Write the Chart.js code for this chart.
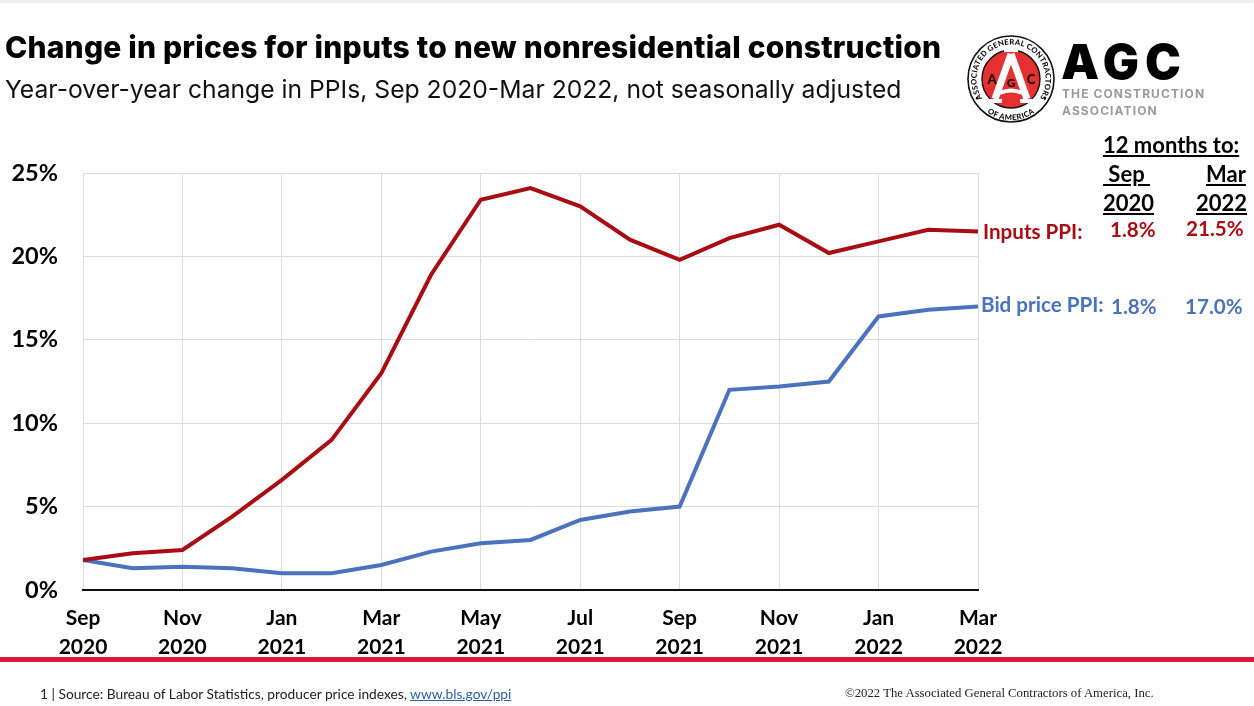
<!DOCTYPE html>
<html>
<head>
<meta charset="utf-8">
<title>Change in prices for inputs to new nonresidential construction</title>
<script src="https://cdn.jsdelivr.net/npm/chart.js@4"></script>
<style>
html, body { margin: 0; padding: 0; background: #fff; }
#page { position: relative; width: 1254px; height: 706px; overflow: hidden; }
#chart { position: absolute; left: 0; top: 0; }
.t { position: absolute; white-space: nowrap; line-height: 1; font-family: Lato, sans-serif; }
.h { font-weight: 700; font-size: 22px; color: #000; text-decoration: underline; }
.r { font-weight: 700; font-size: 20.6px; color: #a80d14; }
.b { font-weight: 700; font-size: 20.6px; color: #4a72bd; }
#topband { position: absolute; left: 0; top: 0; width: 1254px; height: 3px; background: #eeeeef; }
#redline { position: absolute; left: 0; top: 657px; width: 1254px; height: 5px; background: #d9163c; }
#logo { position: absolute; left: 960px; top: 28px; }
</style>
</head>
<body>
<div id="page">
  <div id="topband"></div>
  <canvas id="chart" width="1254" height="706"></canvas>

  <div class="t" style="left:5px;top:32px;font-family:Inter;font-weight:800;font-size:30px;letter-spacing:0.2px;color:#000">Change in prices for inputs to new nonresidential construction</div>
  <div class="t" style="left:5px;top:77px;font-family:Inter;font-weight:400;font-size:24.7px;color:#111">Year-over-year change in PPIs, Sep 2020-Mar 2022, not seasonally adjusted</div>

  <svg id="logo" width="260" height="100" viewBox="0 0 260 100">
    <defs>
      <path id="ringTop" d="M 24.6 73.2 A 34.5 34.5 0 1 1 77.4 73.2"/>
      <path id="ringBottom" d="M 20 78 A 41 41 0 0 0 82 78"/>
    </defs>
    <circle cx="51" cy="51" r="43" fill="#fff" stroke="#111" stroke-width="1.6"/>
    <circle cx="51" cy="51" r="29" fill="#e4312f" stroke="#111" stroke-width="1.4"/>
    <text font-family="Lato" font-weight="900" font-size="7.7" fill="#111" letter-spacing="0.2"><textPath href="#ringTop" startOffset="50%" text-anchor="middle">ASSOCIATED GENERAL CONTRACTORS</textPath></text>
    <text font-family="Lato" font-weight="900" font-size="7.7" fill="#111" letter-spacing="0.4"><textPath href="#ringBottom" startOffset="50%" text-anchor="middle">OF AMERICA</textPath></text>
    <circle cx="17" cy="70" r="1.3" fill="#111"/>
    <circle cx="85" cy="70" r="1.3" fill="#111"/>
    <path d="M 51 26 L 35 71 M 51 26 L 67 71" stroke="#fff" stroke-width="7" fill="none"/>
    <path d="M 40 65 Q 51 60 62 65" stroke="#fff" stroke-width="4" fill="none"/>
    <path d="M 28 73 L 42 73 M 60 73 L 74 73" stroke="#fff" stroke-width="4" fill="none"/>
    <path d="M 44 22 L 58 22" stroke="#fff" stroke-width="4" fill="none"/>
    <text x="32" y="56" font-family="Lato" font-weight="900" font-size="13" fill="#111" text-anchor="middle">A</text>
    <text x="71" y="56" font-family="Lato" font-weight="900" font-size="13" fill="#111" text-anchor="middle">C</text>
    <text x="51" y="59" font-family="Lato" font-weight="900" font-size="12" fill="#111" text-anchor="middle">G</text>
    <text x="101" y="51" font-family="Inter" font-weight="900" font-size="48" fill="#000" letter-spacing="6">AGC</text>
    <text x="102" y="70" font-family="Inter" font-weight="700" font-size="12" fill="#9a9a9a" letter-spacing="1.1">THE CONSTRUCTION</text>
    <text x="102" y="87" font-family="Inter" font-weight="700" font-size="12" fill="#9a9a9a" letter-spacing="1.1">ASSOCIATION</text>
  </svg>

  <div class="t h" style="left:1103px;top:134px">12 months to:</div>
  <div class="t h" style="left:1103px;top:163px">&nbsp;Sep&nbsp;</div>
  <div class="t h" style="left:1206px;top:163px">Mar</div>
  <div class="t h" style="left:1103px;top:192px">2020</div>
  <div class="t h" style="left:1196px;top:192px">2022</div>

  <div class="t r" style="left:983px;top:221px">Inputs PPI:</div>
  <div class="t r" style="left:1110px;top:219px">1.8%</div>
  <div class="t r" style="left:1186px;top:218px">21.5%</div>
  <div class="t b" style="left:981px;top:294px">Bid price PPI:</div>
  <div class="t b" style="left:1111px;top:296px">1.8%</div>
  <div class="t b" style="left:1185px;top:296px">17.0%</div>

  <div id="redline"></div>
  <div class="t" style="left:40px;top:687px;font-size:13.75px;color:#222">1 | Source: Bureau of Labor Statistics, producer price indexes, <span style="color:#2a5ea8;text-decoration:underline">www.bls.gov/ppi</span></div>
  <div class="t" style="left:845px;top:687px;font-family:'Liberation Serif';font-size:12.75px;color:#222">©2022 The Associated General Contractors of America, Inc.</div>
</div>
<script>
const months = ['Sep 2020', 'Oct 2020', 'Nov 2020', 'Dec 2020', 'Jan 2021', 'Feb 2021', 'Mar 2021', 'Apr 2021', 'May 2021', 'Jun 2021',
    'Jul 2021', 'Aug 2021', 'Sep 2021', 'Oct 2021', 'Nov 2021', 'Dec 2021', 'Jan 2022', 'Feb 2022', 'Mar 2022'];
const inputsPpi = [1.8, 2.2, 2.4, 4.4, 6.6, 9.0, 13.0, 18.9, 23.4, 24.1, 23.0, 21.0, 19.8, 21.1, 21.9, 20.2, 20.9, 21.6, 21.5];
const bidPricePpi = [1.8, 1.3, 1.4, 1.3, 1.0, 1.0, 1.5, 2.3, 2.8, 3.0, 4.2, 4.7, 5.0, 12.0, 12.2, 12.5, 16.4, 16.8, 17.0];
const yMax = 25;
const yStep = 5;

new Chart(document.getElementById('chart').getContext('2d'), {
    type: 'line',
    data: {
        labels: months,
        datasets: [
            { label: 'Inputs PPI', data: inputsPpi, borderColor: '#a80d14', borderWidth: 4, pointRadius: 0, tension: 0 },
            { label: 'Bid price PPI', data: bidPricePpi, borderColor: '#4a72bd', borderWidth: 4, pointRadius: 0, tension: 0 }
        ]
    },
    options: {
        responsive: false,
        animation: false,
        layout: { padding: { top: 173, right: 276, bottom: 0, left: 0 } },
        plugins: { legend: { display: false }, tooltip: { enabled: false } },
        scales: {
            x: {
                offset: false,
                afterFit: scale => { scale.height = 116; },
                border: { color: '#111', width: 2, z: 1 },
                grid: {
                    color: ctx => ctx.tick && ctx.tick.value % 2 ? 'rgba(0,0,0,0)' : '#dcdcdc',
                    lineWidth: 1,
                    drawTicks: false
                },
                ticks: {
                    autoSkip: false,
                    maxRotation: 0,
                    minRotation: 0,
                    padding: 14,
                    color: '#000',
                    font: { family: 'Lato', weight: 'bold', size: 21, lineHeight: 1.38 },
                    callback: function (value, index) {
                        return index % 2 ? null : months[index].split(' ');
                    }
                }
            },
            y: {
                min: 0,
                max: yMax,
                afterFit: scale => { scale.width = 83; },
                border: { display: false },
                grid: { color: '#dcdcdc', lineWidth: 1, drawTicks: false },
                ticks: {
                    stepSize: yStep,
                    padding: 25,
                    color: '#000',
                    font: { family: 'Lato', weight: 'bold', size: 23.5 },
                    callback: value => value + '%'
                }
            }
        }
    }
});
</script>
</body>
</html>
